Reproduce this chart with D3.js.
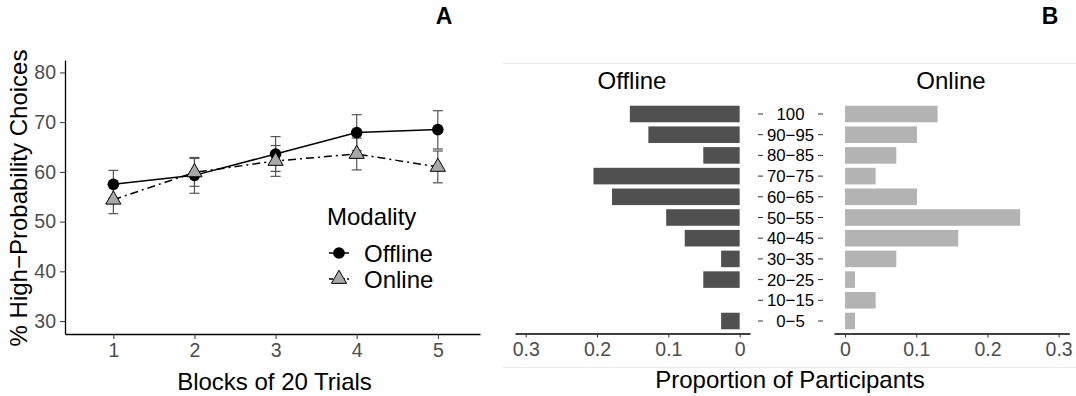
<!DOCTYPE html>
<html>
<head>
<meta charset="utf-8">
<script src="https://cdn.jsdelivr.net/npm/d3@7"></script>
<style>
  body { margin: 0; background: #fff; }
  svg { display: block; font-family: "Liberation Sans", Arial, sans-serif; }
</style>
</head>
<body>
<svg id="chart" width="1076" height="396"></svg>
<script>
// panel A data
const blocks = [1, 2, 3, 4, 5]
const offlineMean = [57.5, 59.3, 63.6, 67.9, 68.5]
const offlineLow = [54.7, 55.7, 60.1, 64.3, 64.6]
const offlineHigh = [60.3, 62.9, 67.1, 71.5, 72.3]
const onlineMean = [54.4, 59.9, 62.2, 63.6, 61.0]
const onlineLow = [51.6, 57.1, 59.1, 60.4, 57.8]
const onlineHigh = [57.2, 62.7, 65.3, 66.8, 64.2]
const yTicks = [30, 40, 50, 60, 70, 80]

// panel B data
const bins = ["100", "90−95", "80−85", "70−75", "60−65", "50−55", "40−45", "30−35", "20−25", "10−15", "0−5"]
const offlineProp = [0.154, 0.128, 0.051, 0.205, 0.179, 0.103, 0.077, 0.026, 0.051, 0, 0.026]
const onlineProp = [0.130, 0.101, 0.072, 0.043, 0.101, 0.246, 0.159, 0.072, 0.014, 0.043, 0.014]
const propTicks = [0, 0.1, 0.2, 0.3]

const svg = d3.select("#chart")
const tickGrey = "#4d4d4d"
const titleSize = "24px"
const tickSize = "19.5px"

// ---------- panel A ----------
const x = d3.scaleLinear().domain([0.404, 5.52]).range([65, 480])
const y = d3.scaleLinear().domain([27.4, 82.5]).range([334, 60])

const gA = svg.append("g")

const xAxis = d3.axisBottom(x).tickValues(blocks).tickSizeInner(5).tickSizeOuter(0).tickPadding(4).tickFormat(d3.format("d"))
const yAxis = d3.axisLeft(y).tickValues(yTicks).tickSizeInner(5).tickSizeOuter(0).tickPadding(4)

const gx = gA.append("g").attr("transform", "translate(0,334)").call(xAxis)
const gy = gA.append("g").attr("transform", "translate(65,0)").call(yAxis)
for (const g of [gx, gy]) {
  g.select(".domain").attr("stroke", "#000").attr("stroke-width", 1.3)
  g.selectAll(".tick line").attr("stroke", "#333")
  g.selectAll(".tick text").attr("fill", tickGrey).style("font-size", tickSize).style("font-family", "Liberation Sans, Arial, sans-serif")
}

gA.append("text").attr("x", 274.5).attr("y", 390).attr("text-anchor", "middle")
  .style("font-size", titleSize).text("Blocks of 20 Trials")
gA.append("text").attr("transform", "translate(27,198) rotate(-90)").attr("text-anchor", "middle")
  .style("font-size", titleSize).text("% High−Probability Choices")

const series = [
  { name: "Offline", mean: offlineMean, low: offlineLow, high: offlineHigh, dash: null, shape: "circle" },
  { name: "Online", mean: onlineMean, low: onlineLow, high: onlineHigh, dash: "8,4,2,4", shape: "triangle" }
]

const line = d3.line().x((d) => x(d[0])).y((d) => y(d[1]))

// error bars first
series.forEach((s) => {
  blocks.forEach((b, i) => {
    const cx = x(b)
    const eb = gA.append("g").attr("stroke", "#555").attr("stroke-width", 1.2).attr("fill", "none")
    eb.append("line").attr("x1", cx).attr("x2", cx).attr("y1", y(s.low[i])).attr("y2", y(s.high[i]))
    eb.append("line").attr("x1", cx - 5).attr("x2", cx + 5).attr("y1", y(s.low[i])).attr("y2", y(s.low[i]))
    eb.append("line").attr("x1", cx - 5).attr("x2", cx + 5).attr("y1", y(s.high[i])).attr("y2", y(s.high[i]))
  })
})

series.forEach((s) => {
  gA.append("path")
    .datum(blocks.map((b, i) => [b, s.mean[i]]))
    .attr("d", line)
    .attr("fill", "none")
    .attr("stroke", "#000")
    .attr("stroke-width", 1.5)
    .attr("stroke-dasharray", s.dash)
})

const tri = d3.symbol().type(d3.symbolTriangle).size(100)

function marker(g, shape, cx, cy) {
  if (shape === "circle") {
    g.append("circle").attr("cx", cx).attr("cy", cy).attr("r", 5.8).attr("fill", "#000")
  } else {
    g.append("path").attr("d", tri).attr("transform", `translate(${cx},${cy})`)
      .attr("fill", "#a8a8a8").attr("stroke", "#000").attr("stroke-width", 1)
  }
}

series.forEach((s) => {
  blocks.forEach((b, i) => marker(gA, s.shape, x(b), y(s.mean[i])))
})

// legend
const leg = gA.append("g")
leg.append("text").attr("x", 327).attr("y", 225).style("font-size", titleSize).text("Modality")
series.forEach((s, i) => {
  const ly = 253 + i * 26
  leg.append("line").attr("x1", 329).attr("x2", 349).attr("y1", ly).attr("y2", ly)
    .attr("stroke", "#000").attr("stroke-width", 1.5).attr("stroke-dasharray", s.dash ? "4,2,1,2" : null)
  marker(leg, s.shape, 339, ly)
  leg.append("text").attr("x", 364).attr("y", ly + 8.5).style("font-size", titleSize).text(s.name)
})

svg.append("text").attr("x", 444).attr("y", 24).attr("text-anchor", "middle")
  .style("font-size", "23px").style("font-weight", "bold").text("A")
svg.append("text").attr("x", 1050).attr("y", 24).attr("text-anchor", "middle")
  .style("font-size", "23px").style("font-weight", "bold").text("B")

// ---------- panel B ----------
const gB = svg.append("g")
gB.append("line").attr("x1", 503).attr("x2", 1076).attr("y1", 63.5).attr("y2", 63.5).attr("stroke", "#ebebeb")
gB.append("line").attr("x1", 503).attr("x2", 1076).attr("y1", 367.5).attr("y2", 367.5).attr("stroke", "#ebebeb")

const yb = d3.scalePoint().domain(bins).range([114, 321])
const barH = yb.step() * 0.8

const xOff = d3.scaleLinear().domain([0.315, -0.0145]).range([515, 750])
const xOn = d3.scaleLinear().domain([-0.0155, 0.315]).range([834, 1069.3])

const propFmt = (d) => (d === 0 ? "0" : d3.format(".1f")(d))

gB.selectAll(".bar_off").data(bins).enter().append("rect")
  .attr("class", "bar_off")
  .attr("x", (d, i) => xOff(offlineProp[i]))
  .attr("width", (d, i) => xOff(0) - xOff(offlineProp[i]))
  .attr("y", (d) => yb(d) - barH / 2)
  .attr("height", barH)
  .attr("fill", "#505050")

gB.selectAll(".bar_on").data(bins).enter().append("rect")
  .attr("class", "bar_on")
  .attr("x", xOn(0))
  .attr("width", (d, i) => xOn(onlineProp[i]) - xOn(0))
  .attr("y", (d) => yb(d) - barH / 2)
  .attr("height", barH)
  .attr("fill", "#b3b3b3")

const gxOff = gB.append("g").attr("transform", "translate(0,333.5)")
  .call(d3.axisBottom(xOff).tickValues(propTicks).tickSizeInner(4).tickSizeOuter(0).tickPadding(5).tickFormat(propFmt))
const gxOn = gB.append("g").attr("transform", "translate(0,333.5)")
  .call(d3.axisBottom(xOn).tickValues(propTicks).tickSizeInner(4).tickSizeOuter(0).tickPadding(5).tickFormat(propFmt))
for (const g of [gxOff, gxOn]) {
  g.select(".domain").attr("stroke", "#000").attr("stroke-width", 1.3)
  g.selectAll(".tick line").attr("stroke", "#333")
  g.selectAll(".tick text").attr("fill", tickGrey).style("font-size", tickSize).style("font-family", "Liberation Sans, Arial, sans-serif")
}

// middle label column with ticks on both sides
const lab = gB.selectAll(".bin_label").data(bins).enter().append("g").attr("class", "bin_label")
lab.append("line").attr("x1", 758).attr("x2", 763).attr("y1", (d) => yb(d)).attr("y2", (d) => yb(d)).attr("stroke", "#333")
lab.append("line").attr("x1", 818).attr("x2", 823).attr("y1", (d) => yb(d)).attr("y2", (d) => yb(d)).attr("stroke", "#333")
lab.append("text").attr("x", 790.5).attr("y", (d) => yb(d)).attr("dy", "0.36em")
  .attr("text-anchor", "middle").style("font-size", "16.8px").text((d) => d)

gB.append("text").attr("x", 632).attr("y", 89).attr("text-anchor", "middle").style("font-size", titleSize).text("Offline")
gB.append("text").attr("x", 951).attr("y", 89).attr("text-anchor", "middle").style("font-size", titleSize).text("Online")
gB.append("text").attr("x", 790).attr("y", 388).attr("text-anchor", "middle").style("font-size", titleSize).text("Proportion of Participants")
</script>
</body>
</html>
